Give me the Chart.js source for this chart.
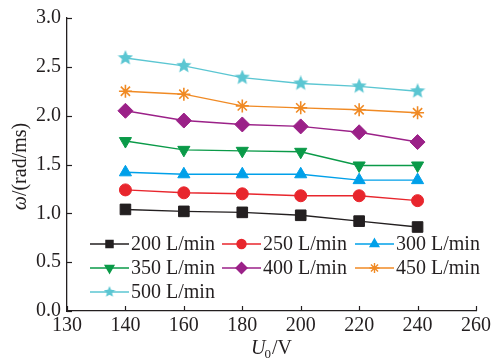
<!DOCTYPE html>
<html>
<head>
<meta charset="utf-8">
<script src="https://cdn.jsdelivr.net/npm/chart.js@4.4.0/dist/chart.umd.min.js"></script>
<style>
  html, body { margin: 0; padding: 0; background: #fff; }
  #wrap { width: 494px; height: 360px; }
</style>
</head>
<body>
<div id="wrap"><canvas id="chart" width="494" height="360"></canvas></div>
<script>
// ==================== Data ====================
// x axis of the original is evenly spaced per label (130 then 140..260 by 20)
const X_TICKS = ['130', '140', '160', '180', '200', '220', '240', '260'];
const VOLTAGES = ['140', '160', '180', '200', '220', '240'];
const SERIES_LABELS = ['200 L/min', '250 L/min', '300 L/min', '350 L/min', '400 L/min', '450 L/min', '500 L/min'];
const FLOW_200 = [1.04, 1.02, 1.01, 0.98, 0.92, 0.86];
const FLOW_250 = [1.24, 1.21, 1.20, 1.18, 1.18, 1.13];
const FLOW_300 = [1.42, 1.40, 1.40, 1.40, 1.34, 1.34];
const FLOW_350 = [1.74, 1.65, 1.64, 1.63, 1.49, 1.49];
const FLOW_400 = [2.05, 1.95, 1.91, 1.89, 1.83, 1.73];
const FLOW_450 = [2.25, 2.22, 2.10, 2.08, 2.06, 2.03];
const FLOW_500 = [2.59, 2.51, 2.39, 2.33, 2.30, 2.25];
const Y_TICKS = [0, 0.5, 1.0, 1.5, 2.0, 2.5, 3.0];

const FONT = '"Liberation Serif", "Times New Roman", serif';
const FONT_SIZE = 20;
const COLORS = ['#231f20', '#e8262d', '#00a0e9', '#0a9a48', '#9b2188', '#f08a24', '#5bc6d2'];

// five-point star marker, drawn once on a small canvas
function makeStar(size, color) {
    const c = document.createElement('canvas');
    c.width = size; c.height = size;
    const g = c.getContext('2d');
    const cx = size / 2, cy = size / 2, R = size / 2, r = R * 0.45;
    g.beginPath();
    for (let i = 0; i < 10; i++) {
        const a = -Math.PI / 2 + i * Math.PI / 5;
        const rr = i % 2 === 0 ? R : r;
        g.lineTo(cx + rr * Math.cos(a), cy + rr * Math.sin(a));
    }
    g.closePath();
    g.fillStyle = color;
    g.fill();
    return c;
}

const MARKERS = [
    { style: 'rect', radius: 7.5, rotation: 0, legendRadius: 5 },
    { style: 'circle', radius: 6, rotation: 0, legendRadius: 4.5 },
    { style: 'triangle', radius: 7, rotation: 0, legendRadius: 5 },
    { style: 'triangle', radius: 7, rotation: 180, legendRadius: 5 },
    { style: 'rectRot', radius: 7.5, rotation: 0, legendRadius: 5.5 },
    { style: 'star', radius: 6.5, rotation: 0, legendRadius: 5 },
    { style: makeStar(16, COLORS[6]), radius: 8, rotation: 0, legendStyle: makeStar(12, COLORS[6]), legendRadius: 6 }
];

const SERIES = [FLOW_200, FLOW_250, FLOW_300, FLOW_350, FLOW_400, FLOW_450, FLOW_500];

const datasets = SERIES.map((vals, i) => ({
    label: SERIES_LABELS[i],
    data: VOLTAGES.map((v, j) => ({ x: v, y: vals[j] })),
    borderColor: COLORS[i],
    backgroundColor: COLORS[i],
    pointBorderColor: COLORS[i],
    pointBackgroundColor: COLORS[i],
    borderWidth: 1.4,
    pointStyle: MARKERS[i].style,
    pointRadius: MARKERS[i].radius,
    pointRotation: MARKERS[i].rotation,
    pointBorderWidth: i === 5 ? 1.6 : 1,
    tension: 0
}));

// ==================== Plugins ====================
// inward tick marks on both axes
const innerTicks = {
    id: 'innerTicks',
    afterDraw(chart) {
        const { ctx, chartArea, scales } = chart;
        ctx.save();
        ctx.strokeStyle = '#231f20';
        ctx.lineWidth = 1.2;
        X_TICKS.forEach((t, i) => {
            const px = Math.round(scales.x.getPixelForTick(i)) + 0.5;
            ctx.beginPath();
            ctx.moveTo(px, chartArea.bottom);
            ctx.lineTo(px, chartArea.bottom - 5);
            ctx.stroke();
        });
        Y_TICKS.forEach(t => {
            const py = Math.round(scales.y.getPixelForValue(t)) + 0.5;
            ctx.beginPath();
            ctx.moveTo(chartArea.left, py);
            ctx.lineTo(chartArea.left + 5, py);
            ctx.stroke();
        });
        ctx.restore();
    }
};

// axis titles with italic symbols
const axisTitles = {
    id: 'axisTitles',
    afterDraw(chart) {
        const { ctx, chartArea } = chart;
        ctx.save();
        ctx.fillStyle = '#231f20';
        ctx.textBaseline = 'middle';

        // y title: ω/(rad/ms), rotated
        const italic = 'italic ' + FONT_SIZE + 'px ' + FONT;
        const normal = FONT_SIZE + 'px ' + FONT;
        ctx.font = italic;
        const wOmega = ctx.measureText('ω').width;
        ctx.font = normal;
        const wRest = ctx.measureText('/(rad/ms)').width;
        ctx.translate(21, (chartArea.top + chartArea.bottom) / 2 + 2);
        ctx.rotate(-Math.PI / 2);
        let x0 = -(wOmega + wRest) / 2;
        ctx.font = italic;
        ctx.textAlign = 'left';
        ctx.fillText('ω', x0, 0);
        ctx.font = normal;
        ctx.fillText('/(rad/ms)', x0 + wOmega, 0);
        ctx.setTransform(1, 0, 0, 1, 0, 0);

        // x title: U0/V
        const sub = '13px ' + FONT;
        ctx.font = italic;
        const wU = ctx.measureText('U').width;
        ctx.font = sub;
        const w0 = ctx.measureText('0').width;
        ctx.font = normal;
        const wV = ctx.measureText('/V').width;
        const cx = (chartArea.left + chartArea.right) / 2;
        const y = 349;
        let x = cx - (wU + w0 + wV) / 2;
        ctx.font = italic;
        ctx.fillText('U', x, y);
        ctx.font = sub;
        ctx.fillText('0', x + wU - 1, y + 6);
        ctx.font = normal;
        ctx.fillText('/V', x + wU + w0, y);
        ctx.restore();
    }
};

// legend drawn inside the plot, three columns
const innerLegend = {
    id: 'innerLegend',
    afterDraw(chart) {
        const { ctx } = chart;
        const colX = [90, 222, 355];
        const rowY = [244, 268, 292];
        ctx.save();
        ctx.font = FONT_SIZE + 'px ' + FONT;
        ctx.textBaseline = 'middle';
        ctx.textAlign = 'left';
        SERIES_LABELS.forEach((lbl, i) => {
            const x = colX[i % 3];
            const y = rowY[Math.floor(i / 3)];
            const m = MARKERS[i];
            ctx.strokeStyle = COLORS[i];
            ctx.fillStyle = COLORS[i];
            ctx.lineWidth = 1.4;
            ctx.beginPath();
            ctx.moveTo(x, y);
            ctx.lineTo(x + 39, y);
            ctx.stroke();
            Chart.helpers.drawPoint(ctx, {
                pointStyle: m.legendStyle || m.style,
                rotation: m.rotation,
                radius: m.legendRadius,
                borderWidth: i === 5 ? 1.4 : 1
            }, x + 19.5, y);
            ctx.fillStyle = '#231f20';
            ctx.fillText(lbl, x + 41, y + 1);
        });
        ctx.restore();
    }
};

// ==================== Chart ====================
new Chart(document.getElementById('chart').getContext('2d'), {
    type: 'line',
    data: { labels: X_TICKS, datasets },
    options: {
        responsive: false,
        animation: false,
        layout: { padding: { top: 18, right: 18, left: 0, bottom: 0 } },
        plugins: { legend: { display: false }, tooltip: { enabled: false } },
        scales: {
            x: {
                type: 'category',
                offset: false,
                afterFit: s => { s.height = 49; },
                grid: { display: false, drawTicks: false },
                border: { display: true, color: '#231f20', width: 1.3 },
                ticks: { color: '#231f20', padding: 3, maxRotation: 0, autoSkip: false, font: { family: FONT, size: FONT_SIZE } }
            },
            y: {
                min: 0, max: 3,
                afterFit: s => { s.width = 67; },
                afterBuildTicks: s => { s.ticks = Y_TICKS.map(v => ({ value: v })); },
                grid: { display: false, drawTicks: false },
                border: { display: true, color: '#231f20', width: 1.3 },
                ticks: { color: '#231f20', padding: 6, font: { family: FONT, size: FONT_SIZE }, callback: v => v.toFixed(1) }
            }
        }
    },
    plugins: [innerTicks, axisTitles, innerLegend]
});
</script>
</body>
</html>
